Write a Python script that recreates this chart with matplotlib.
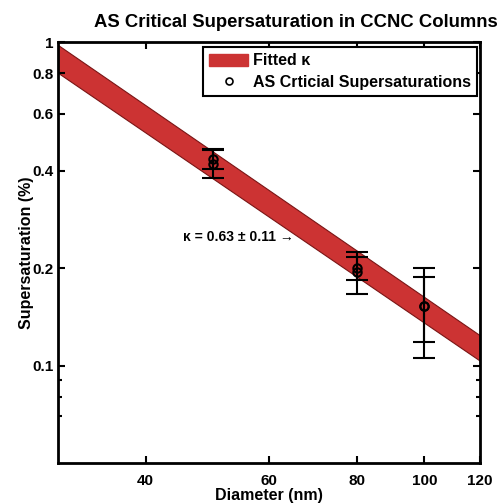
import matplotlib
matplotlib.use('Agg')
import matplotlib.pyplot as plt
from matplotlib.patches import Patch
from matplotlib.lines import Line2D
from matplotlib.ticker import FixedLocator, NullFormatter

plt.rcParams['font.family'] = ['Liberation Sans', 'DejaVu Sans']
plt.rcParams['font.weight'] = 'bold'

# fitted kappa band (straight in log-log)
band_d = [30, 120]
band_upper = [0.979, 0.124]
band_lower = [0.803, 0.1035]

# measured critical supersaturations
diam = [50, 50, 80, 80, 100, 100]
ss = [0.436, 0.421, 0.200, 0.195, 0.153, 0.153]
ss_err = [0.030, 0.042, 0.016, 0.029, 0.0475, 0.035]

x_ticks = [40, 60, 80, 100, 120]
y_ticks = [0.1, 0.2, 0.4, 0.6, 0.8, 1]
y_minor = [0.07, 0.08, 0.09]

fig = plt.figure(figsize=(5.04, 5.04), dpi=100)
ax = fig.add_axes([58/504, 1-463/504, (480-58)/504, (463-42)/504])

ax.fill_between(band_d, band_lower, band_upper, facecolor='#cc3333',
                edgecolor='#7a1515', linewidth=0.8, zorder=1)
ax.errorbar(diam, ss, yerr=ss_err, fmt='o', mfc='none', mec='black',
            mew=1.5, ms=6, ecolor='black', elinewidth=1.5, capsize=8,
            capthick=1.5, zorder=3)

ax.set_xscale('log')
ax.set_yscale('log')
ax.set_xlim(30, 120)
ax.set_ylim(0.05, 1)

ax.xaxis.set_major_locator(FixedLocator(x_ticks))
ax.xaxis.set_minor_locator(FixedLocator([]))
ax.set_xticklabels([str(t) for t in x_ticks])
ax.xaxis.set_minor_formatter(NullFormatter())
ax.yaxis.set_major_locator(FixedLocator(y_ticks))
ax.yaxis.set_minor_locator(FixedLocator(y_minor))
ax.set_yticklabels(['0.1', '0.2', '0.4', '0.6', '0.8', '1'])
ax.yaxis.set_minor_formatter(NullFormatter())

ax.tick_params(which='both', direction='in', top=True, right=True,
               labelsize=11, width=1.5)
ax.tick_params(which='major', length=5)
ax.tick_params(which='minor', length=3)
ax.tick_params(axis='x', which='major', pad=8)
ax.tick_params(axis='y', which='major', pad=3)
for sp in ax.spines.values():
    sp.set_linewidth(2)

ax.set_xlabel('Diameter (nm)', fontsize=11.5, fontweight='bold', labelpad=0)
ax.set_ylabel('Supersaturation (%)', fontsize=11.5, fontweight='bold', labelpad=-1)
fig.text(296/504, 1-27/504, 'AS Critical Supersaturation in CCNC Columns',
         ha='center', va='baseline', fontsize=13.3, fontweight='bold')

ax.text(65, 0.249, '\u03ba = 0.63 \u00b1 0.11 \u2192', ha='right', va='center',
        fontsize=10, fontweight='bold')

handles = [Patch(facecolor='#cc3333', edgecolor='#cc3333'),
           Line2D([], [], ls='none', marker='o', mfc='none', mec='black',
                  mew=1.2, ms=5)]
leg = ax.legend(handles, ['Fitted \u03ba', 'AS Crticial Supersaturations'],
                loc='upper right', bbox_to_anchor=(477/504, 1-47/504),
                bbox_transform=fig.transFigure, fancybox=False,
                framealpha=1, edgecolor='black', borderaxespad=0,
                prop={'weight': 'bold', 'size': 11.5}, handlelength=2.4,
                handleheight=0.8, handletextpad=0.3, borderpad=0.4,
                labelspacing=0.4)
leg.get_frame().set_linewidth(1.5)

fig.savefig('out.png', dpi=100)
